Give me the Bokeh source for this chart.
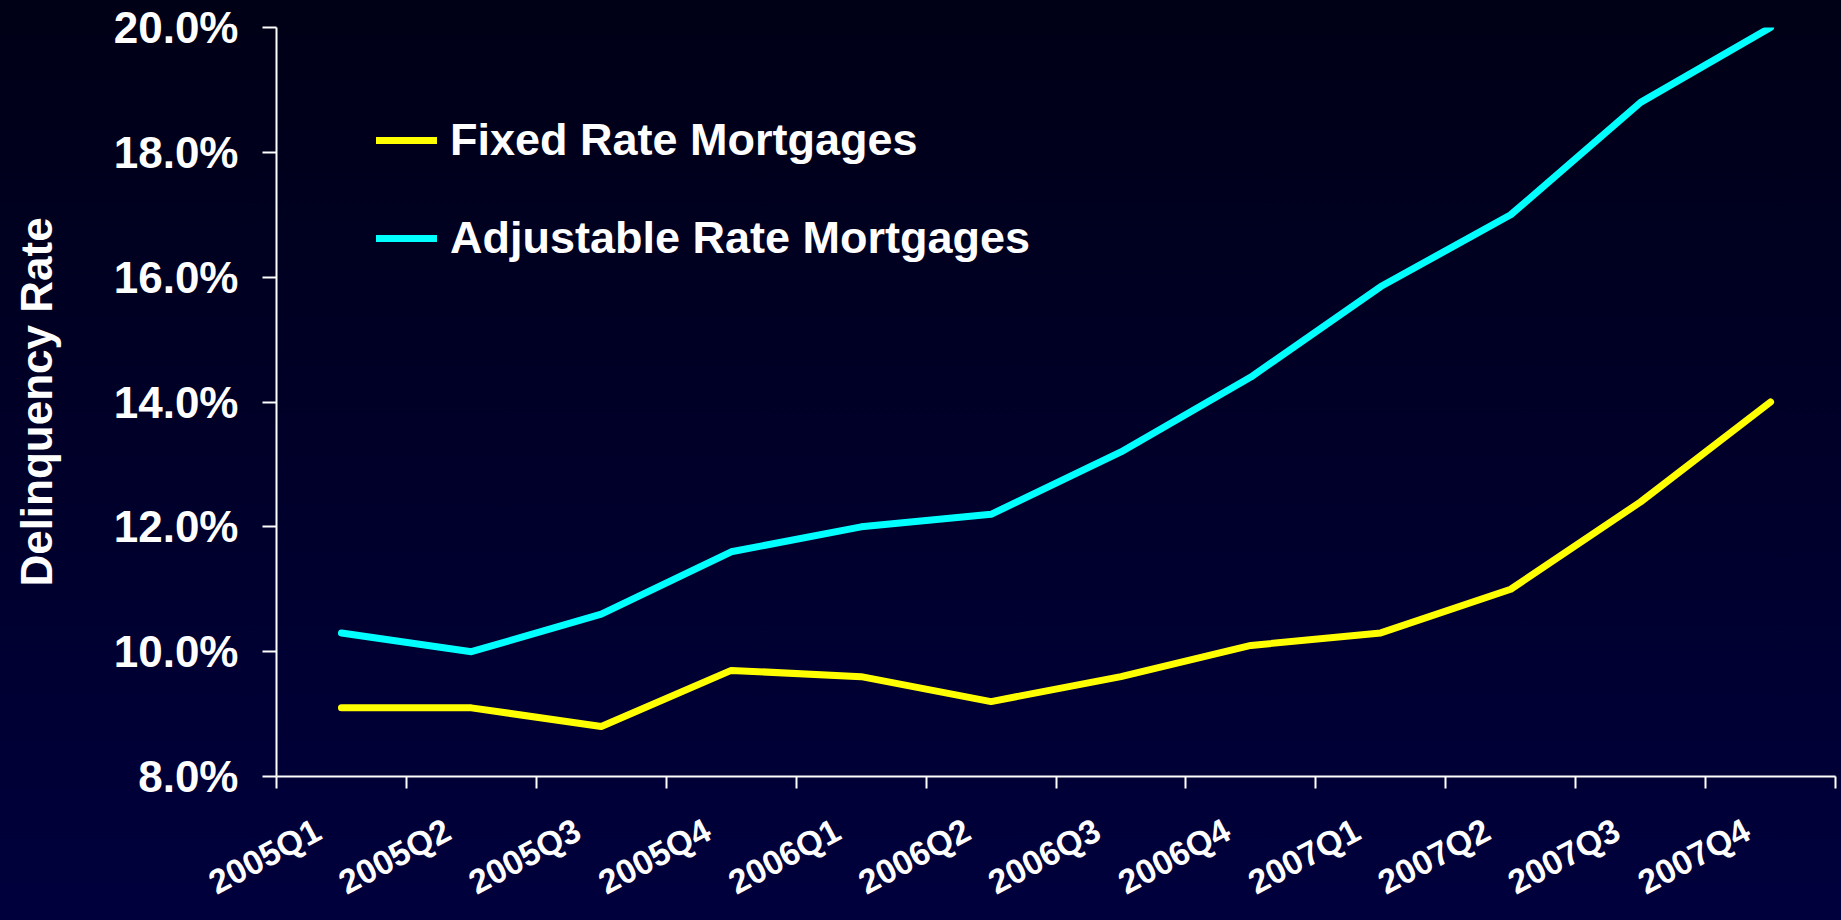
import math
from bokeh.plotting import figure
from bokeh.models import FixedTicker, PrintfTickFormatter, Legend, LegendItem, Range1d
from bokeh.embed import file_html
from bokeh.resources import INLINE

quarters = ["2005Q1", "2005Q2", "2005Q3", "2005Q4", "2006Q1", "2006Q2",
            "2006Q3", "2006Q4", "2007Q1", "2007Q2", "2007Q3", "2007Q4"]
fixed_rate = [9.1, 9.1, 8.8, 9.7, 9.6, 9.2, 9.6, 10.1, 10.3, 11.0, 12.4, 14.0]
adjustable_rate = [10.3, 10.0, 10.6, 11.6, 12.0, 12.2, 13.2, 14.4, 15.85, 17.0, 18.8, 20.0]
y_ticks = [8, 10, 12, 14, 16, 18, 20]
series_names = ["Fixed Rate Mortgages", "Adjustable Rate Mortgages"]
y_title = "Delinquency Rate"

x_pos = [i + 0.5 for i in range(len(quarters))]
bounds = list(range(len(quarters) + 1))
LABEL_SHIFT = 0.18  # rotated labels end slightly left of the category centre
label_ticks = [round(xp - LABEL_SHIFT, 3) for xp in x_pos]

FONT = "Liberation Sans"
BG = "linear-gradient(to bottom, #000016 0%, #00003d 100%)"

p = figure(width=1841, height=920, output_backend="svg", toolbar_location=None,
           x_range=Range1d(0, len(quarters)), y_range=Range1d(y_ticks[0], y_ticks[-1]),
           min_border_left=276, min_border_right=6, min_border_top=27, min_border_bottom=142)
p.background_fill_alpha = 0
p.border_fill_alpha = 0
p.outline_line_alpha = 0
p.grid.visible = False
p.styles = {"background": BG}

# x axis: tick marks at category boundaries (minor ticks), rotated category labels
xa = p.xaxis[0]
xa.ticker = FixedTicker(ticks=label_ticks, minor_ticks=bounds)
xa.major_label_overrides = {t: q for t, q in zip(label_ticks, quarters)}
xa.major_tick_out = 0
xa.major_tick_in = 0
xa.minor_tick_out = 12
xa.minor_tick_in = 0
xa.minor_tick_line_color = "white"
xa.minor_tick_line_width = 2
xa.axis_line_color = "white"
xa.axis_line_width = 2
xa.major_label_orientation = math.radians(28)
xa.major_label_text_font = FONT
xa.major_label_text_font_style = "bold"
xa.major_label_text_font_size = "34px"
xa.major_label_text_color = "white"
xa.major_label_standoff = 39

# y axis
ya = p.yaxis[0]
ya.ticker = FixedTicker(ticks=y_ticks, minor_ticks=[])
ya.formatter = PrintfTickFormatter(format="%.1f%%")
ya.major_tick_out = 14
ya.major_tick_in = 0
ya.major_tick_line_color = "white"
ya.major_tick_line_width = 2
ya.axis_line_color = "white"
ya.axis_line_width = 2
ya.major_label_text_font = FONT
ya.major_label_text_font_style = "bold"
ya.major_label_text_font_size = "44px"
ya.major_label_text_color = "white"
ya.major_label_standoff = 24
ya.axis_label = y_title
ya.axis_label_text_font = FONT
ya.axis_label_text_font_style = "bold"
ya.axis_label_text_font_size = "44px"
ya.axis_label_text_color = "white"
ya.axis_label_standoff = 50

r1 = p.line(x_pos, fixed_rate, line_color="#ffff00", line_width=7,
            line_cap="round", line_join="round")
r2 = p.line(x_pos, adjustable_rate, line_color="#00ffff", line_width=7,
            line_cap="round", line_join="round")

legend = Legend(items=[LegendItem(label=series_names[0], renderers=[r1]),
                       LegendItem(label=series_names[1], renderers=[r2])],
                location=(100, 508))
legend.border_line_alpha = 0
legend.background_fill_alpha = 0
legend.padding = 0
legend.margin = 0
legend.glyph_width = 61
legend.glyph_height = 60
legend.label_height = 60
legend.spacing = 38
legend.label_standoff = 13
legend.label_text_font = FONT
legend.label_text_font_style = "bold"
legend.label_text_font_size = "45px"
legend.label_text_color = "white"
legend.label_text_baseline = "middle"
p.add_layout(legend)

template = ("{% block preamble %}<style>html, body {margin:0 !important; padding:0 !important; "
            "overflow:hidden; height:100%; background: " + BG + ";}</style>{% endblock %}")

open("out.html", "w").write(file_html(p, INLINE, template=template))
